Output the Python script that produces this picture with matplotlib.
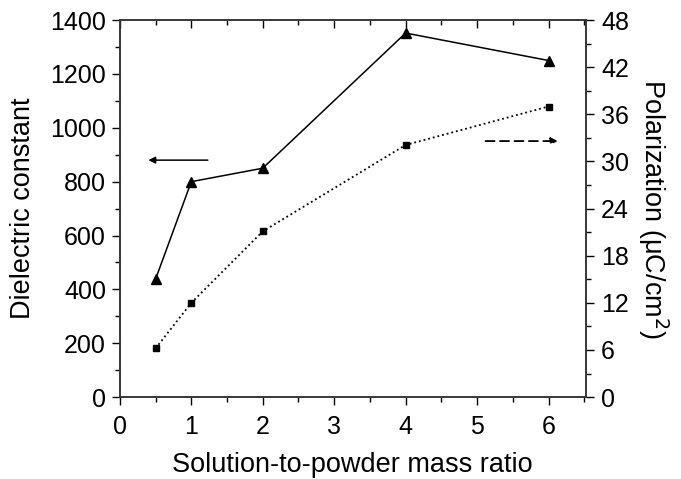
import matplotlib
matplotlib.use('Agg')
import matplotlib.pyplot as plt
from matplotlib.ticker import MultipleLocator

plt.rcParams['font.family'] = ['Liberation Sans', 'DejaVu Sans']

# data
ratio = [0.5, 1, 2, 4, 6]
dielectric = [438, 800, 850, 1352, 1250]
polarization = [6.2, 12.0, 21.1, 32.1, 37.0]

x_ticks = [0, 1, 2, 3, 4, 5, 6]
left_ticks = [0, 200, 400, 600, 800, 1000, 1200, 1400]
right_ticks = [0, 6, 12, 18, 24, 30, 36, 42, 48]

fig = plt.figure(figsize=(6.81, 4.79), dpi=100)
ax = fig.add_axes([0.176, 0.171, 0.684, 0.787])
ax2 = ax.twinx()

ax.plot(ratio, dielectric, '-', color='black', lw=1.1, marker='^', ms=7)
ax2.plot(ratio, polarization, ':', color='black', lw=1.3, marker='s', ms=4.5)

ax.set_xlim(0, 6.52)
ax.set_ylim(0, 1400)
ax2.set_ylim(0, 48)

ax.set_xticks(x_ticks)
ax.set_yticks(left_ticks)
ax2.set_yticks(right_ticks)
ax.xaxis.set_minor_locator(MultipleLocator(0.5))
ax.yaxis.set_minor_locator(MultipleLocator(100))
ax2.yaxis.set_minor_locator(MultipleLocator(3))

ax.tick_params(axis='x', which='both', direction='out', top=True, labelsize=18, pad=7)
ax.tick_params(axis='y', which='both', direction='out', right=False, labelsize=18, pad=4)
ax.tick_params(which='major', length=6, width=1)
ax.tick_params(which='minor', length=3.5, width=1)
ax2.tick_params(axis='y', which='both', direction='out', labelsize=18, pad=5)
ax2.tick_params(which='major', length=6, width=1)
ax2.tick_params(which='minor', length=3.5, width=1)
# top ticks point inward
for t in ax.xaxis.get_major_ticks() + ax.xaxis.get_minor_ticks():
    t.tick2line.set_marker(3)

ax.set_xlabel('Solution-to-powder mass ratio', fontsize=19.5, labelpad=9)
ax.set_ylabel('Dielectric constant', fontsize=19.5, labelpad=10)
ax2.set_ylabel('Polarization (μC/cm$^2$)', fontsize=19.5, rotation=270, labelpad=30)

for sp in list(ax.spines.values()) + list(ax2.spines.values()):
    sp.set_linewidth(1.1)
    sp.set_color('#333333')

# axis indicator arrows
ax.annotate('', xy=(0.36, 880), xytext=(1.27, 880),
            arrowprops=dict(arrowstyle='-|>', color='black', lw=1.1, mutation_scale=10))
ax2.annotate('', xy=(6.17, 32.6), xytext=(5.08, 32.6),
             arrowprops=dict(arrowstyle='-|>', color='black', lw=1.3, ls=(0, (5, 3)),
                             mutation_scale=10))

fig.savefig('out.png', dpi=100)
